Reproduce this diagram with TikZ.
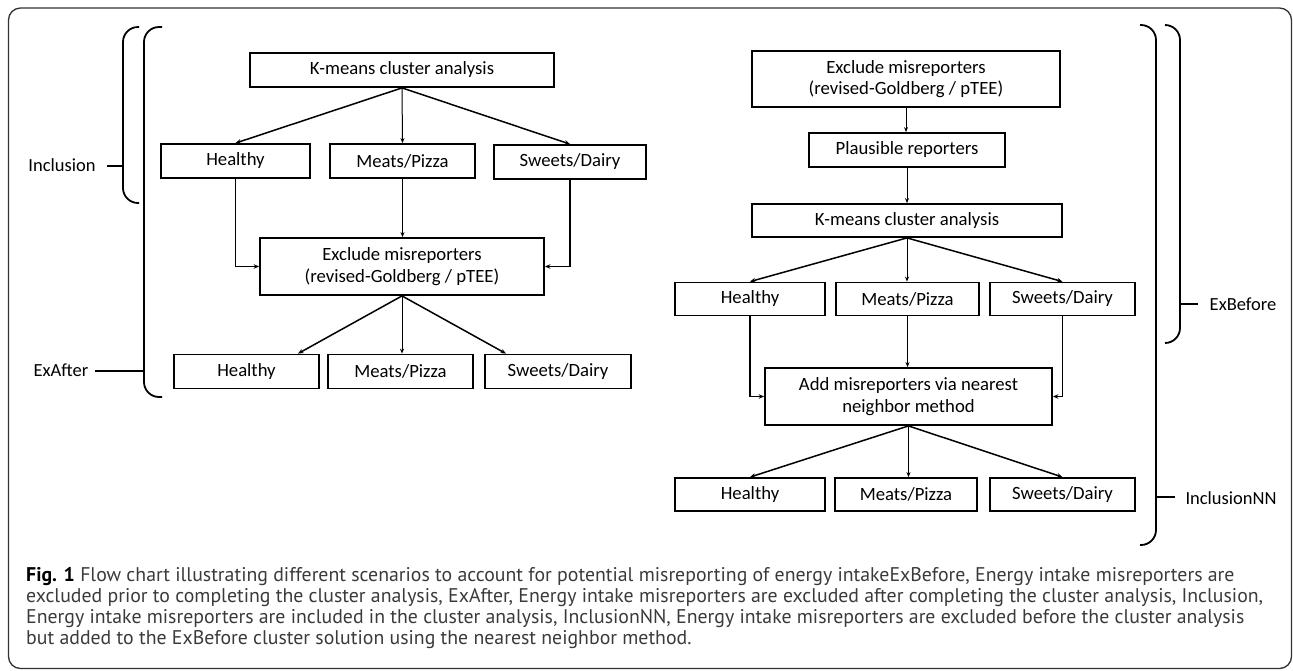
\documentclass[tikz,border=0pt]{standalone}
\usepackage{fontspec}
\setmainfont{Carlito}
\newfontfamily\capfont{PT Sans}
\usetikzlibrary{arrows.meta,calc}
\definecolor{captxt}{HTML}{3A3A3A}
\definecolor{framec}{HTML}{333333}
\begin{document}
\begin{tikzpicture}[x=1pt,y=-1pt,
  box/.style={draw, line width=1.8pt, inner sep=0pt, align=center, font=\fontsize{18.7}{21.5}\selectfont},
  arr/.style={line width=1.5pt, -{Stealth[length=5.5pt,width=4.5pt]}},
  varr/.style={line width=1.0pt, -{Stealth[length=5pt,width=4pt]}},
  brk/.style={line width=1.8pt, rounded corners=15pt},
  tickl/.style={line width=2.5pt},
  lab/.style={font=\fontsize{18.5}{21}\selectfont, inner sep=0pt},
  captext/.style={font=\capfont\fontsize{19.8}{21}\selectfont, anchor=base west, inner sep=0pt, text=captxt}
]
\useasboundingbox (0,0) rectangle (1293,670);
\draw[line width=1.3pt, rounded corners=12pt, color=framec] (8.5,8) rectangle (1291.5,668.5);

% ---------- left chart ----------
\node[box, minimum width=304pt, minimum height=34pt] (lk) at (402,70) {K-means cluster analysis};
\node[box, minimum width=149pt, minimum height=34pt] (lh1) at (235.5,161) {Healthy};
\node[box, minimum width=145pt, minimum height=34pt] (lm1) at (402.5,161) {Meats/Pizza};
\node[box, minimum width=152pt, minimum height=34pt] (ls1) at (570,162) {Sweets/Dairy};
\node[box, minimum width=284pt, minimum height=57pt] (lx) at (402,266.5) {Exclude misreporters\\(revised-Goldberg / pTEE)};
\node[box, minimum width=145pt, minimum height=34pt] (lh2) at (246.5,371.5) {Healthy};
\node[box, minimum width=145pt, minimum height=34pt] (lm2) at (400.5,371.5) {Meats/Pizza};
\node[box, minimum width=146pt, minimum height=34pt] (ls2) at (558,371.5) {Sweets/Dairy};

\draw[arr] (lk.south) -- (lh1.north);
\draw[varr] (lk.south) -- (lm1.north);
\draw[arr] (lk.south) -- (ls1.north);
\draw[arr] (lh1.south) |- (lx.west);
\draw[varr] (lm1.south) -- (lm1.south |- lx.north);
\draw[arr] (ls1.south) |- (lx.east);
\draw[arr] (lx.south) -- ([xshift=51.5pt]lh2.north);
\draw[varr] (lx.south) -- (lx.south |- lm2.north);
\draw[arr] (lx.south) -- ([xshift=-52pt]ls2.north);

% ---------- right chart ----------
\node[box, minimum width=308pt, minimum height=56pt] (rx) at (906,79) {Exclude misreporters\\(revised-Goldberg / pTEE)};
\node[box, minimum width=196pt, minimum height=34pt] (rp) at (907,150) {Plausible reporters};
\node[box, minimum width=310pt, minimum height=33pt] (rk) at (907,220.5) {K-means cluster analysis};
\node[box, minimum width=150pt, minimum height=33pt] (rh1) at (750,299) {Healthy};
\node[box, minimum width=143pt, minimum height=33pt] (rm1) at (907.5,299) {Meats/Pizza};
\node[box, minimum width=145pt, minimum height=33pt] (rs1) at (1062.5,299) {Sweets/Dairy};
\node[box, minimum width=287pt, minimum height=57pt] (ra) at (908.5,396.5) {Add misreporters via nearest\\neighbor method};
\node[box, minimum width=150pt, minimum height=33pt] (rh2) at (750,494.5) {Healthy};
\node[box, minimum width=142pt, minimum height=33pt] (rm2) at (906,494.5) {Meats/Pizza};
\node[box, minimum width=145pt, minimum height=33pt] (rs2) at (1062.5,494.5) {Sweets/Dairy};

\draw[varr] (rx.south) -- (rx.south |- rp.north);
\draw[varr] (rp.south) -- (rp.south |- rk.north);
\draw[arr] (rk.south) -- (rh1.north);
\draw[varr] (rk.south) -- (rk.south |- rm1.north);
\draw[arr] (rk.south) -- (rs1.north);
\draw[arr] (rh1.south) |- (ra.west);
\draw[varr] (rm1.south) -- (rm1.south |- ra.north);
\draw[arr] (rs1.south) |- (ra.east);
\draw[arr] (ra.south) -- (rh2.north);
\draw[varr] (ra.south) -- (ra.south |- rm2.north);
\draw[arr] (ra.south) -- (rs2.north);

% ---------- brackets and labels ----------
\draw[brk] (139,27) -- (123,27) -- (123,203) -- (139,203);
\draw[tickl] (107,166) -- (123,166);
\node[lab] (inc) at (62,165) {Inclusion};

\draw[brk] (162,27) -- (144,27) -- (144,397) -- (162,397);
\draw[tickl] (95,371) -- (144,371);
\node[lab] (exa) at (61,370) {ExAfter};

\draw[brk] (1140,25) -- (1156,25) -- (1156,545) -- (1140,545);
\draw[tickl] (1156,497) -- (1175,497);
\node[lab] (inn) at (1231,498) {InclusionNN};

\draw[brk] (1165,25) -- (1180,25) -- (1180,343) -- (1165,343);
\draw[tickl] (1180,304) -- (1198,304);
\node[lab] (exb) at (1243,304) {ExBefore};

% ---------- caption ----------
\node[captext] (cap1) at (26,581) {{\bfseries\color{black}Fig. 1} Flow chart illustrating different scenarios to account for potential misreporting of energy intakeExBefore, Energy intake misreporters are};
\node[captext] (cap2) at (26,602.5) {excluded prior to completing the cluster analysis, ExAfter, Energy intake misreporters are excluded after completing the cluster analysis, Inclusion,};
\node[captext] (cap3) at (26,623.5) {Energy intake misreporters are included in the cluster analysis, InclusionNN, Energy intake misreporters are excluded before the cluster analysis};
\node[captext] (cap4) at (26,644.5) {but added to the ExBefore cluster solution using the nearest neighbor method.};
\end{tikzpicture}
\end{document}
